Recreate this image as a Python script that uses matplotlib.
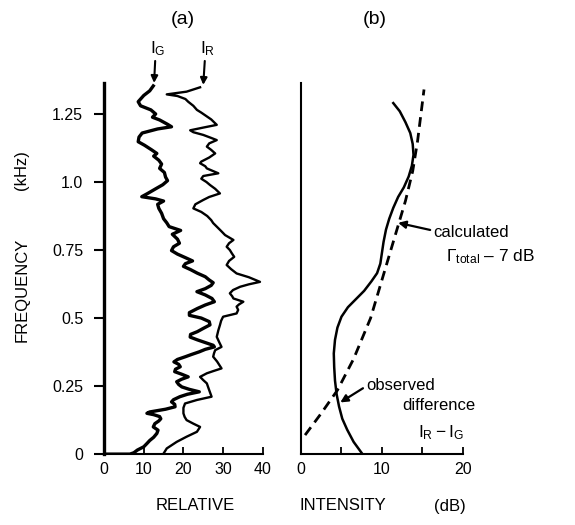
import numpy as np
import matplotlib
matplotlib.use('Agg')
import matplotlib.pyplot as plt

plt.rcParams['font.family'] = ['Liberation Sans', 'DejaVu Sans']
plt.rcParams['mathtext.fontset'] = 'custom'
plt.rcParams['mathtext.rm'] = 'Liberation Sans'
plt.rcParams['mathtext.it'] = 'Liberation Sans'

# panel (a): traces, frequency (kHz) vs intensity (dB)
ig_freq = [1.353, 1.335, 1.318, 1.295, 1.280, 1.265, 1.250, 1.238, 1.228, 1.212, 1.203, 1.195,
           1.180, 1.165, 1.148, 1.135, 1.118, 1.105, 1.095, 1.080, 1.066, 1.050, 1.035, 1.018,
           1.005, 0.990, 0.975, 0.958, 0.946, 0.938, 0.930, 0.918, 0.903, 0.885, 0.865, 0.850,
           0.836, 0.822, 0.808, 0.790, 0.775, 0.762, 0.748, 0.735, 0.722, 0.710, 0.700, 0.690,
           0.678, 0.665, 0.652, 0.640, 0.630, 0.620, 0.608, 0.597, 0.585, 0.572, 0.560, 0.548,
           0.535, 0.520, 0.510, 0.500, 0.487, 0.475, 0.462, 0.450, 0.440, 0.430, 0.420, 0.410,
           0.400, 0.394, 0.385, 0.376, 0.366, 0.358, 0.348, 0.339, 0.330, 0.321, 0.312, 0.303,
           0.294, 0.284, 0.275, 0.266, 0.256, 0.247, 0.238, 0.229, 0.220, 0.211, 0.200, 0.192,
           0.183, 0.174, 0.165, 0.160, 0.155, 0.150, 0.145, 0.138, 0.130, 0.122, 0.112, 0.100,
           0.088, 0.076, 0.062, 0.050, 0.039, 0.027, 0.015, 0.005, 0.0, 0.0]
ig_val = [12.4, 11.5, 10.0, 8.6, 9.2, 11.8, 13.0, 12.2, 14.0, 16.0, 17.0, 13.5,
          9.6, 8.8, 8.6, 10.2, 12.0, 13.3, 12.5, 13.8, 14.5, 14.0, 15.2, 15.5,
          16.0, 14.8, 13.0, 11.0, 9.5, 13.0, 15.0, 13.5, 13.8, 14.5, 15.0, 15.8,
          16.4, 19.3, 17.2, 18.5, 19.0, 17.5, 17.0, 18.5, 20.5, 22.3, 20.5, 20.0,
          21.8, 23.5, 25.5, 26.5, 27.5, 27.0, 25.5, 23.4, 25.5, 27.2, 27.8, 25.5,
          23.5, 21.5, 21.5, 24.5, 26.5, 26.7, 25.0, 23.5, 21.8, 21.7, 23.5, 25.5,
          27.5, 27.8, 25.5, 24.0, 22.0, 20.5, 18.5, 17.6, 18.8, 19.2, 18.0, 17.8,
          19.5, 21.2, 19.5, 18.3, 18.8, 19.6, 21.5, 24.0, 21.0, 19.1, 17.5, 17.0,
          17.8, 17.9, 15.5, 13.5, 11.5, 10.8, 12.5, 14.0, 14.3, 13.8, 12.8, 12.4,
          13.6, 13.3, 12.5, 11.5, 10.8, 10.0, 8.4, 7.5, 6.5, 0.5]

ir_freq = [1.348, 1.340, 1.332, 1.322, 1.316, 1.305, 1.295, 1.280, 1.265, 1.255, 1.246, 1.230,
           1.210, 1.200, 1.190, 1.183, 1.173, 1.162, 1.154, 1.142, 1.130, 1.118, 1.105, 1.090,
           1.075, 1.069, 1.058, 1.050, 1.040, 1.032, 1.022, 1.012, 1.000, 0.989, 0.975, 0.958,
           0.945, 0.934, 0.918, 0.903, 0.890, 0.875, 0.860, 0.849, 0.836, 0.820, 0.805, 0.787,
           0.775, 0.762, 0.750, 0.738, 0.725, 0.710, 0.695, 0.680, 0.664, 0.650, 0.633, 0.624,
           0.615, 0.603, 0.591, 0.580, 0.572, 0.560, 0.550, 0.542, 0.530, 0.517, 0.505, 0.490,
           0.474, 0.455, 0.431, 0.412, 0.394, 0.382, 0.370, 0.358, 0.340, 0.315, 0.305, 0.297,
           0.284, 0.272, 0.260, 0.235, 0.211, 0.199, 0.186, 0.170, 0.150, 0.137, 0.125, 0.112,
           0.100, 0.082, 0.064, 0.045, 0.021, 0.0]
ir_val = [24.2, 22.5, 20.8, 15.8, 18.5, 20.5, 21.2, 22.5, 23.4, 24.5, 25.4, 27.0,
          28.4, 25.0, 21.7, 22.5, 25.0, 27.0, 28.4, 26.5, 25.9, 27.0, 28.0, 26.5,
          24.5, 24.2, 25.5, 25.9, 27.5, 28.8, 25.0, 24.5, 25.8, 26.7, 28.0, 29.2,
          26.5, 25.0, 23.0, 22.5, 24.5, 26.0, 27.0, 27.5, 28.4, 29.5, 30.5, 32.6,
          31.5, 30.9, 31.7, 32.2, 32.8, 31.5, 30.9, 32.0, 33.4, 36.5, 39.3, 36.5,
          34.3, 32.5, 31.7, 32.3, 32.6, 35.1, 34.0, 33.4, 33.8, 33.4, 30.0, 29.5,
          29.2, 28.8, 28.4, 29.0, 29.6, 28.0, 27.7, 27.5, 28.5, 29.6, 27.5, 25.9,
          24.2, 25.0, 25.9, 26.5, 27.1, 23.4, 20.4, 20.0, 20.0, 20.3, 20.8, 22.5,
          24.2, 23.4, 20.8, 18.3, 15.8, 14.9]

# panel (b): observed difference I_R - I_G and calculated Gamma_total - 7 dB
obs_val = [11.4, 12.2, 12.9, 13.5, 13.8, 13.9, 13.7, 13.3, 12.7, 12.0, 11.4, 10.9,
           10.5, 10.2, 10.0, 9.8, 9.4, 8.7, 7.8, 6.8, 5.8, 5.0, 4.5, 4.2,
           4.05, 4.1, 4.2, 4.4, 4.7, 5.1, 5.7, 6.5, 7.6]
obs_freq = [1.29, 1.26, 1.22, 1.18, 1.14, 1.10, 1.06, 1.02, 0.98, 0.945, 0.905, 0.865,
            0.825, 0.78, 0.74, 0.70, 0.665, 0.635, 0.60, 0.57, 0.54, 0.505, 0.465, 0.42,
            0.37, 0.32, 0.27, 0.22, 0.175, 0.13, 0.09, 0.045, 0.0]
calc_val = [0.5, 2.5, 4.5, 6.5, 8.6, 10.7, 11.7, 12.9, 13.8, 14.4, 15.2]
calc_freq = [0.07, 0.15, 0.235, 0.35, 0.50, 0.71, 0.81, 0.93, 1.04, 1.15, 1.34]

yticks = [0, 0.25, 0.5, 0.75, 1.0, 1.25]
ylabels = ['0', '0.25', '0.5', '0.75', '1.0', '1.25']

fig = plt.figure(figsize=(5.75, 5.25), dpi=100)
ax_a = fig.add_axes([0.181, 0.135, 0.276, 0.707])
ax_b = fig.add_axes([0.5235, 0.135, 0.2815, 0.707])

ax_a.plot(ig_val, ig_freq, color='black', lw=2.4, solid_joinstyle='round')
ax_a.plot(ir_val, ir_freq, color='black', lw=1.7, solid_joinstyle='round')
ax_a.set_xlim(0, 40)
ax_a.set_ylim(0, 1.364)
ax_a.set_xticks([0, 10, 20, 30, 40])
ax_a.set_yticks(yticks)
ax_a.set_yticklabels(ylabels)
ax_a.tick_params(axis='x', direction='in', length=5, width=1.3, labelsize=11.5, pad=6)
ax_a.tick_params(axis='y', direction='out', length=7, width=1.5, labelsize=11.5, pad=8)
ax_a.spines['left'].set_linewidth(2.4)
ax_a.spines['bottom'].set_linewidth(1.5)

ax_a.annotate(r'$\rm I_G$', xy=(12.6, 1.364), xytext=(13.5, 1.455), ha='center', va='bottom',
              fontsize=12.5, annotation_clip=False,
              arrowprops=dict(arrowstyle='-|>', color='black', lw=1.5, mutation_scale=10,
                              shrinkA=0, shrinkB=0, relpos=(0.35, 0)))
ax_a.annotate(r'$\rm I_R$', xy=(25.0, 1.357), xytext=(26.0, 1.455), ha='center', va='bottom',
              fontsize=12.5, annotation_clip=False,
              arrowprops=dict(arrowstyle='-|>', color='black', lw=1.5, mutation_scale=10,
                              shrinkA=0, shrinkB=0, relpos=(0.35, 0)))

ax_b.plot(obs_val, obs_freq, color='black', lw=1.8, solid_joinstyle='round')
ax_b.plot(calc_val, calc_freq, color='black', lw=2.0, linestyle=(0, (3.5, 2.2)))
ax_b.set_xlim(0, 20)
ax_b.set_ylim(0, 1.364)
ax_b.set_xticks([0, 10, 20])
ax_b.set_xticks([5, 15], minor=True)
ax_b.set_yticks([])
ax_b.tick_params(axis='x', which='both', direction='in', length=5, width=1.3, labelsize=11.5, pad=6)
ax_b.spines['left'].set_linewidth(1.5)
ax_b.spines['bottom'].set_linewidth(1.5)

for ax in (ax_a, ax_b):
    ax.spines['top'].set_visible(False)
    ax.spines['right'].set_visible(False)
    ax.patch.set_alpha(0)

arrow = dict(arrowstyle='-|>', color='black', lw=1.6, mutation_scale=11, shrinkA=0, shrinkB=0)
ax_b.annotate('calculated', xy=(12.0, 0.85), xytext=(16.3, 0.816), va='center', ha='left',
              fontsize=12, annotation_clip=False,
              arrowprops=dict(arrow, relpos=(0, 0.6)))
ax_b.text(17.9, 0.725, r'$\Gamma_{\rm total}$' + ' \u2013 7 dB', fontsize=12.5, va='center',
          ha='left', clip_on=False)
ax_b.annotate('observed', xy=(4.85, 0.19), xytext=(8.0, 0.254), va='center', ha='left',
              fontsize=12, annotation_clip=False,
              arrowprops=dict(arrow, relpos=(0, 0.4)))
ax_b.text(12.5, 0.18, 'difference', fontsize=12, va='center', ha='left', clip_on=False)
ax_b.text(14.5, 0.08, r'$\rm I_R - I_G$', fontsize=12.5, va='center', ha='left', clip_on=False)

fig.text(0.318, 0.962, '(a)', fontsize=14, ha='center', va='center')
fig.text(0.652, 0.962, '(b)', fontsize=14, ha='center', va='center')
fig.text(0.038, 0.448, 'FREQUENCY', rotation=90, fontsize=12, ha='center', va='center')
fig.text(0.038, 0.676, '(kHz)', rotation=90, fontsize=12, ha='center', va='center')
fig.text(0.339, 0.038, 'RELATIVE', fontsize=12, ha='center', va='center')
fig.text(0.597, 0.038, 'INTENSITY', fontsize=12, ha='center', va='center')
fig.text(0.783, 0.036, '(dB)', fontsize=12, ha='center', va='center')

fig.savefig('out.png', dpi=100, facecolor='white')
